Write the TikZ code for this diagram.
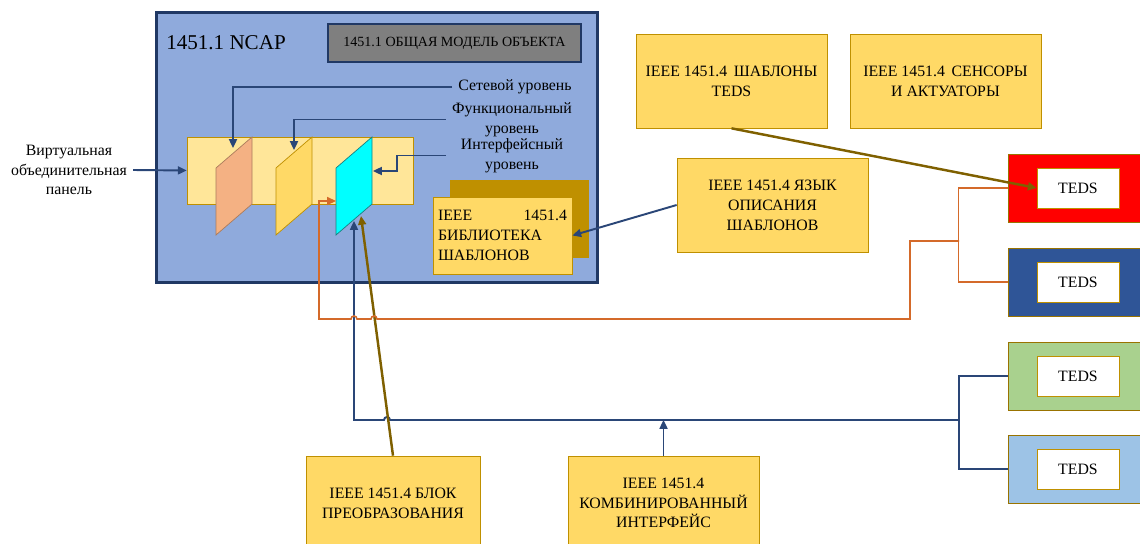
\documentclass[tikz,border=0pt]{standalone}
\usepackage{fontspec}
\setmainfont{Liberation Serif}
\usetikzlibrary{arrows.meta,calc}

\definecolor{ncapblue}{HTML}{8FAADC}
\definecolor{navy}{HTML}{203864}
\definecolor{busblue}{HTML}{2A4677}
\definecolor{modelgray}{HTML}{7F7F7F}
\definecolor{gold}{HTML}{FFD966}
\definecolor{goldline}{HTML}{BF9000}
\definecolor{bandyellow}{HTML}{FFE699}
\definecolor{peach}{HTML}{F4B183}
\definecolor{aqua}{HTML}{00FFFF}
\definecolor{aqualine}{HTML}{1B7F7F}
\definecolor{orangeline}{HTML}{D46A2A}
\definecolor{oliveline}{HTML}{7F6000}
\definecolor{tedsblue}{HTML}{2F5597}
\definecolor{tedsgreen}{HTML}{A9D18E}
\definecolor{tedssky}{HTML}{9DC3E6}

\begin{document}
\begin{tikzpicture}[x=0.02cm, y=-0.02cm,
    every node/.style={font=\fontsize{9}{11.3}\selectfont},
    box/.style={draw=goldline, fill=gold, inner sep=0pt, align=center,
        minimum width=3.82cm, minimum height=1.88cm},
    tedsbox/.style={draw=goldline!80!black, minimum width=2.8cm, minimum height=1.36cm},
    tedsin/.style={draw=goldline, fill=white, minimum width=1.64cm, minimum height=0.8cm},
    navyln/.style={busblue, line width=1.1pt},
    navyarr/.style={navyln, -{Triangle[length=5pt,width=4.5pt]}},
    orangeln/.style={orangeline, line width=0.9pt},
    olivearr/.style={oliveline, line width=1.4pt, -{Triangle[length=5pt,width=4.5pt]}}]
    \useasboundingbox (0,0) rectangle (1140,544);
    \clip (0,0) rectangle (1140,544);
    % NCAP
    \node[draw=navy, line width=1.7pt, fill=ncapblue, minimum width=8.84cm, minimum height=5.42cm] (ncap) at (377,147.5) {};
    \node (title) at (226,43) {\fontsize{12}{14}\selectfont 1451.1 NCAP};
    \node[draw=navy, line width=1.6pt, fill=modelgray, minimum width=5.06cm, minimum height=0.76cm,
        font=\fontsize{8}{10}\selectfont] (model) at (454.5,43) {1451.1 ОБЩАЯ МОДЕЛЬ ОБЪЕКТА};
    \node[draw=goldline, fill=bandyellow, minimum width=4.52cm, minimum height=1.34cm] (band) at (300,170.5) {};
    % Layers
    \draw[fill=peach, draw=peach!70!black] (216,168) -- (252,137) -- (252,204) -- (216,235) -- cycle;
    \draw[fill=gold, draw=goldline] (276,168) -- (312,137) -- (312,204) -- (276,235) -- cycle;
    \draw[fill=aqua, draw=aqualine] (336,168) -- (372,137) -- (372,204) -- (336,235) -- cycle;
    \coordinate (net) at (233,148);
    \coordinate (fun) at (294,150);
    \coordinate (intf) at (373,171);
    \coordinate (cyin) at (336,201);
    \coordinate (cyb) at (354,221);
    \coordinate (cyo) at (361,216);
    \node (lnet) at (515,87) {Сетевой уровень};
    \node[align=center] (lfun) at (512,119.5) {Функциональный\\уровень};
    \node[align=center] (lint) at (512,155.5) {Интерфейсный\\уровень};
    \node[align=center] (vp) at (69,170) {Виртуальная\\объединительная\\панель};
    % Library
    \node[box, fill=goldline, minimum width=2.76cm, minimum height=1.54cm] (libback) at (519,218.5) {};
    \node[box, minimum width=2.78cm, minimum height=1.54cm, text width=2.58cm, align=left] (lib) at (502.5,235.5)
        {\makebox[2.58cm][l]{IEEE\hfill 1451.4}\\БИБЛИОТЕКА\\ШАБЛОНОВ};
    % Boxes
    \node[box] (tpl) at (731.5,81) {IEEE 1451.4\, ШАБЛОНЫ\\TEDS};
    \node[box] (sens) at (945.5,81) {IEEE 1451.4\, СЕНСОРЫ\\И АКТУАТОРЫ};
    \node[box] (lang) at (772.5,205) {IEEE 1451.4 ЯЗЫК\\ОПИСАНИЯ\\ШАБЛОНОВ};
    \node[box, minimum width=3.48cm] (conv) at (393,503) {IEEE 1451.4 БЛОК\\ПРЕОБРАЗОВАНИЯ};
    \node[box] (comb) at (663.5,503) {IEEE 1451.4\\КОМБИНИРОВАННЫЙ\\ИНТЕРФЕЙС};
    % TEDS
    \node[tedsbox, fill=red] (rd) at (1078,188) {};
    \node[tedsin] (rdin) at (1078,188) {TEDS};
    \node[tedsbox, fill=tedsblue] (bl) at (1078,282) {};
    \node[tedsin] (blin) at (1078,282) {TEDS};
    \node[tedsbox, fill=tedsgreen] (gr) at (1078,376) {};
    \node[tedsin] (grin) at (1078,376) {TEDS};
    \node[tedsbox, fill=tedssky] (lb) at (1078,469) {};
    \node[tedsin] (lbin) at (1078,469.5) {TEDS};
    % Edges
    \draw[navyarr] (vp.east) -- (band.west);
    \draw[navyarr] (lnet.west) -| (net);
    \draw[navyarr] (lfun.west) -| (fun);
    \draw[navyarr] (lint.west -| lfun.west) -| ($(intf)+(24,0)$) -- (intf);
    \draw[navyarr] (lang.west) -- (lib.east);
    \draw[olivearr] (tpl.south) -- (rdin.west);
    \coordinate (njoin) at (959,420);
    \draw[navyln] (gr.west) -- ++(-49,0) |- (lb.west);
    \draw[navyarr] (njoin) -- (390,420) arc[start angle=0, end angle=180, radius=0.06cm] -- (354,420) -- (cyb);
    \draw[navyarr] (comb.north) -- (comb.north |- njoin);
    \draw[olivearr] (conv.north) -- (cyo);
    \coordinate (ojoin) at (959,241);
    \draw[orangeln] (rd.west) -- ++(-49,0) |- (bl.west);
    \draw[orangeln, -{Triangle[length=5pt,width=4.5pt]}] (ojoin) -- (910,241) |- (377,319)
        arc[start angle=0, end angle=180, radius=0.06cm] -- (357,319)
        arc[start angle=0, end angle=180, radius=0.06cm] -- (319,319) |- (cyin);
\end{tikzpicture}
\end{document}
